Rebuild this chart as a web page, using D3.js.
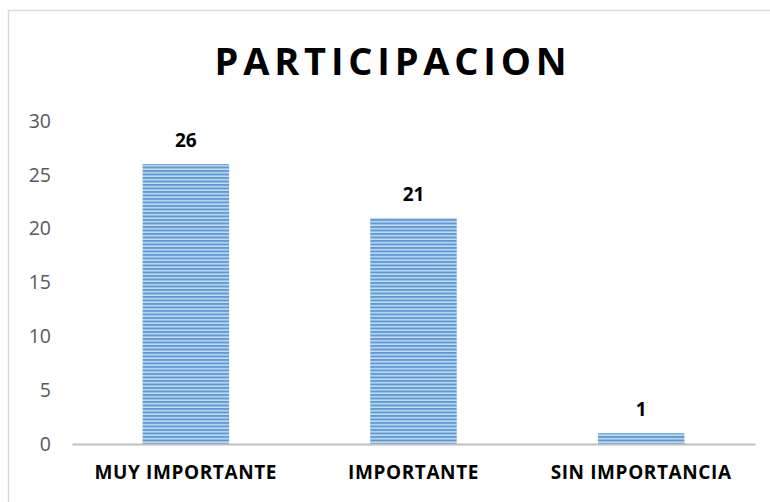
<!DOCTYPE html>
<html>
<head>
<meta charset="utf-8">
<script src="https://cdn.jsdelivr.net/npm/d3@7"></script>
<style>
  body { margin: 0; background: #fff; }
  text { font-family: "Open Sans", "Liberation Sans", sans-serif; }
</style>
</head>
<body>
<div id="chart-area"></div>
<script>
// --- Data ---
var categories = ["MUY IMPORTANTE", "IMPORTANTE", "SIN IMPORTANCIA"];
var values = [26, 21, 1];
var yTicks = [0, 5, 10, 15, 20, 25, 30];
var title = "PARTICIPACION";

// --- Setup the canvas ---
var W = 770, H = 502;
var margins = {top: 121, bottom: 58, left: 72, right: 15};
var width = W - margins.left - margins.right;
var height = H - margins.top - margins.bottom;

var svg = d3.select("#chart-area").append("svg")
    .attr("width", W)
    .attr("height", H);

// striped fill like the original
var defs = svg.append("defs");
var pat = defs.append("pattern")
    .attr("id", "stripes")
    .attr("patternUnits", "userSpaceOnUse")
    .attr("width", 10)
    .attr("height", 3.5);
pat.append("rect").attr("width", 10).attr("height", 3.5).attr("fill", "#c9dcf0");
pat.append("rect").attr("width", 10).attr("height", 2).attr("fill", "#5b9bd5");

// chart border
svg.append("rect")
    .attr("x", 8.5).attr("y", 10.5)
    .attr("width", W + 10).attr("height", H + 10)
    .attr("fill", "none")
    .attr("stroke", "#d9d9d9")
    .attr("stroke-width", 1.5);

// title
svg.append("text")
    .text(title)
    .attr("x", 393)
    .attr("y", 75)
    .attr("text-anchor", "middle")
    .attr("font-size", "38px")
    .attr("font-weight", "bold")
    .attr("letter-spacing", "4.8px")
    .attr("fill", "#000");

var group = svg.append("g")
    .attr("transform", "translate(" + margins.left + ", " + margins.top + ")");

// --- Scales ---
var x = d3.scaleBand()
    .domain(categories)
    .range([0, width])
    .paddingInner(0.62)
    .paddingOuter(0.31);

var y = d3.scaleLinear()
    .domain([0, 30])
    .range([height, 0]);

// y axis (labels only)
var yAxis = d3.axisLeft(y)
    .tickValues(yTicks)
    .tickSize(0)
    .tickPadding(21);
var yAxisGroup = group.append("g").call(yAxis);
yAxisGroup.select(".domain").remove();
yAxisGroup.selectAll("text")
    .attr("font-size", "19.5px")
    .attr("font-family", "Open Sans, sans-serif")
    .attr("fill", "#595959");

// bars
group.selectAll("rect.bar")
    .data(values)
    .enter()
    .append("rect")
        .attr("class", "bar")
        .attr("x", (d, i) => x(categories[i]))
        .attr("y", (d) => y(d))
        .attr("width", x.bandwidth())
        .attr("height", (d) => height - y(d))
        .attr("fill", "url(#stripes)");

// value labels
group.selectAll("text.val")
    .data(values)
    .enter()
    .append("text")
        .attr("class", "val")
        .text((d) => d)
        .attr("x", (d, i) => x(categories[i]) + x.bandwidth() / 2)
        .attr("y", (d) => y(d) - 17)
        .attr("text-anchor", "middle")
        .attr("font-size", "19px")
        .attr("font-weight", "bold")
        .attr("fill", "#000");

// x axis
var xAxis = d3.axisBottom(x).tickSize(0).tickPadding(22);
var xAxisGroup = group.append("g")
    .attr("transform", "translate(0, " + height + ")")
    .call(xAxis);
xAxisGroup.select(".domain")
    .attr("stroke", "#bfbfbf")
    .attr("stroke-width", 2);
xAxisGroup.selectAll("text")
    .attr("font-size", "19px")
    .attr("font-weight", "bold")
    .attr("letter-spacing", "0.6px")
    .attr("font-family", "Open Sans, sans-serif")
    .attr("fill", "#000");
</script>
</body>
</html>
